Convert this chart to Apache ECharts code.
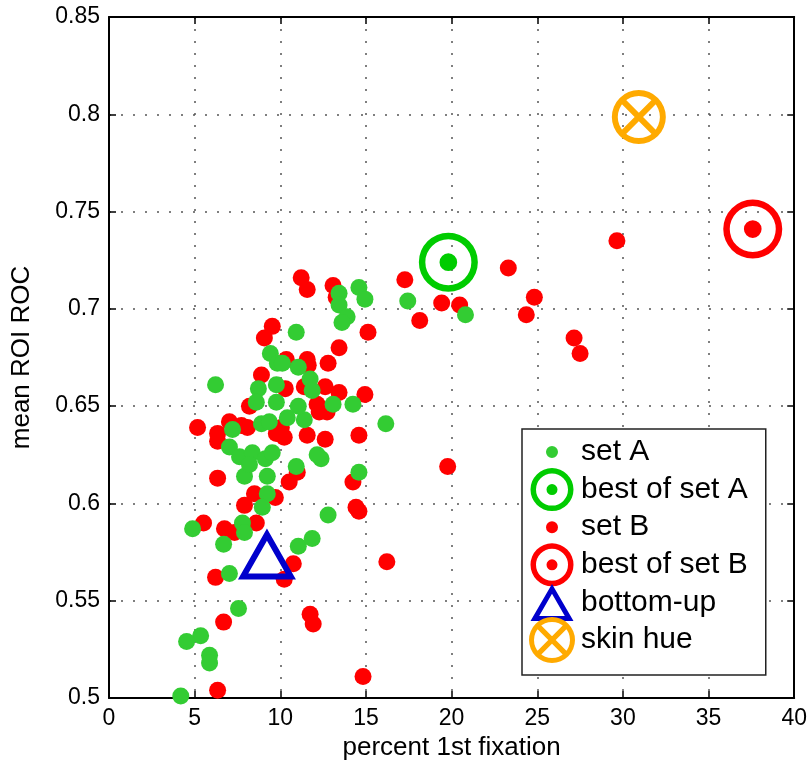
<!DOCTYPE html>
<html><head><meta charset="utf-8">
<script src="https://cdn.jsdelivr.net/npm/echarts@6/dist/echarts.min.js"></script>
<style>html,body{margin:0;padding:0;background:#fff}#c{width:810px;height:769px}</style>
</head><body><div id="c"></div>
<script>
// ---------- data ----------
const setA = [[17.44,0.704],[20.81,0.697],[14.59,0.711],[14.94,0.705],[13.43,0.708],[13.43,0.702],[13.90,0.696],[13.60,0.693],[10.93,0.688],[9.42,0.677],[9.83,0.672],[10.12,0.672],[11.05,0.670],[6.22,0.661],[8.72,0.659],[9.77,0.661],[11.74,0.664],[11.86,0.658],[7.21,0.638],[7.03,0.629],[7.62,0.624],[8.37,0.626],[9.13,0.623],[9.53,0.626],[7.91,0.614],[8.20,0.620],[9.24,0.614],[9.24,0.605],[8.95,0.598],[10.93,0.619],[12.38,0.623],[12.15,0.625],[14.59,0.616],[12.79,0.594],[11.40,0.643],[10.41,0.644],[8.90,0.641],[9.36,0.642],[9.77,0.652],[11.05,0.650],[13.08,0.651],[14.24,0.651],[16.16,0.641],[8.60,0.652],[4.88,0.587],[7.79,0.590],[7.91,0.585],[6.69,0.579],[7.03,0.564],[11.05,0.578],[11.86,0.582],[7.56,0.546],[5.35,0.532],[4.53,0.529],[5.87,0.522],[5.87,0.518],[4.19,0.501]];
const setB = [[29.65,0.735],[23.31,0.721],[24.83,0.706],[24.36,0.697],[27.15,0.685],[27.50,0.677],[17.27,0.715],[19.42,0.703],[20.47,0.702],[18.14,0.694],[19.77,0.619],[16.22,0.570],[14.83,0.511],[11.22,0.716],[11.57,0.710],[13.08,0.712],[13.26,0.706],[15.12,0.688],[9.53,0.691],[9.07,0.685],[13.43,0.680],[10.35,0.674],[11.57,0.674],[11.63,0.671],[12.79,0.672],[8.90,0.666],[10.29,0.659],[11.40,0.660],[12.62,0.660],[13.43,0.657],[14.94,0.656],[5.17,0.639],[7.03,0.642],[6.34,0.636],[6.34,0.632],[7.73,0.640],[8.08,0.639],[6.34,0.613],[8.49,0.605],[9.71,0.603],[7.91,0.599],[10.52,0.611],[10.99,0.616],[14.59,0.635],[12.62,0.633],[11.57,0.635],[10.23,0.634],[9.77,0.636],[14.24,0.611],[14.42,0.598],[14.59,0.596],[8.20,0.650],[12.27,0.647],[12.73,0.647],[12.15,0.651],[10.06,0.639],[5.52,0.590],[6.74,0.587],[7.33,0.585],[8.60,0.590],[6.22,0.562],[10.76,0.569],[10.23,0.561],[6.69,0.539],[11.74,0.543],[11.92,0.538],[6.34,0.504]];
const bestA = [[19.81,0.724]];
const bestB = [[37.58,0.741]];
const bottomUp = [[9.22,0.574]];
const skinHue = [[30.93,0.7986]];
const seriesNames = ['set A','best of set A','set B','best of set B','bottom-up','skin hue'];
const xRange = [0, 40, 5];
const yRange = [0.5, 0.85, 0.05];

// ---------- symbol path helpers ----------
function circ(cx, cy, r, cw) {
  const s = cw ? 1 : 0;
  return `M${cx} ${cy-r}A${r} ${r} 0 1 ${s} ${cx} ${cy+r}A${r} ${r} 0 1 ${s} ${cx} ${cy-r}Z`;
}
function bars(cx, cy, L, h) {
  const s = Math.SQRT1_2; let out = '';
  [[[s,s],[-s,s]],[[s,-s],[s,s]]].forEach(([u,n]) => {
    const p = (a,b) => `${(cx+a*u[0]+b*n[0]).toFixed(2)} ${(cy+a*u[1]+b*n[1]).toFixed(2)}`;
    out += `M${p(-L,-h)}L${p(L,-h)}L${p(L,h)}L${p(-L,h)}Z`;
  });
  return out;
}
function tri(W, H, d, ox, oy) {
  const A=[ox+W/2,oy], B=[ox+W,oy+H], C=[ox,oy+H];
  const ab=Math.hypot(W/2,H), per=2*ab+W, area=W*H/2, r=area/(per/2);
  const I=[ox+W/2, oy+H-r], k=(r-d)/r;
  const q=P=>[I[0]+k*(P[0]-I[0]), I[1]+k*(P[1]-I[1])];
  const A2=q(A),B2=q(B),C2=q(C);
  const f=P=>P[0].toFixed(2)+' '+P[1].toFixed(2);
  return `M${f(A)}L${f(B)}L${f(C)}Z M${f(A2)}L${f(C2)}L${f(B2)}Z`;
}
function corners(W, H) {
  return `M0 0h0.01v0.01h-0.01Z M${W-0.01} ${H-0.01}h0.01v0.01h-0.01Z`;
}
// plot symbols
const ringDotSym = 'path://' + circ(50,50,50,true) + circ(50,50,39,false) + circ(50,50,15,true);
const skinSym = 'path://' + circ(50,50,50,true) + circ(50,50,39,false) + bars(50,50,44,5.5);
const triSym = 'path://' + tri(58,51,6,0,0);
// legend icons (box 48x46)
const LW = 48, LH = 46, cx = 24, cy = 23;
const lgDot = 'path://' + corners(LW,LH) + circ(cx,cy,6,true);
const lgRing = 'path://' + corners(LW,LH) + circ(cx,cy,21.5,true) + circ(cx,cy,16,false) + circ(cx,cy,5.5,true);
const lgTri = 'path://' + corners(LW,LH) + tri(43,37,5,cx-21.5,cy-18.5);
const lgSkin = 'path://' + corners(LW,LH) + circ(cx,cy,23,true) + circ(cx,cy,18,false) + bars(cx,cy,19.5,2.6);

const FONT = 'Liberation Sans, Arial, Helvetica, sans-serif';
const chart = echarts.init(document.getElementById('c'), null, {renderer:'canvas'});
const axisCommon = {
  type: 'value',
  axisLine: {show: true, onZero: false, lineStyle: {color: '#000', width: 2}},
  axisTick: {show: true, inside: true, length: 7, lineStyle: {color: '#000', width: 1.5}},
};
const grid = {left: 109, right: 13, top: 17, bottom: 71};
chart.setOption({
  animation: false,
  backgroundColor: '#fff',
  grid: grid,
  xAxis: [
    Object.assign({}, axisCommon, {
      min: xRange[0], max: xRange[1], interval: xRange[2], position: 'bottom',
      name: 'percent 1st fixation', nameLocation: 'middle', nameGap: 36,
      nameTextStyle: {fontFamily: FONT, fontSize: 26, color: '#000'},
      axisLabel: {fontFamily: FONT, fontSize: 23, color: '#000', margin: 9, showMinLabel: true, showMaxLabel: true},
      splitLine: {show: true, lineStyle: {color: '#555', width: 1.5, type: [2, 10]}}
    }),
    Object.assign({}, axisCommon, {
      min: xRange[0], max: xRange[1], interval: xRange[2], position: 'top',
      axisLabel: {show: false}, splitLine: {show: false}
    })
  ],
  yAxis: [
    Object.assign({}, axisCommon, {
      min: yRange[0], max: yRange[1], interval: yRange[2], position: 'left',
      name: 'mean ROI ROC', nameLocation: 'middle', nameGap: 74,
      nameTextStyle: {fontFamily: FONT, fontSize: 26, color: '#000'},
      axisLabel: {fontFamily: FONT, fontSize: 23, color: '#000', margin: 9, showMinLabel: true, showMaxLabel: true,
        formatter: v => String(+v.toFixed(2))},
      splitLine: {show: true, lineStyle: {color: '#555', width: 1.5, type: [2, 10]}}
    }),
    Object.assign({}, axisCommon, {
      min: yRange[0], max: yRange[1], interval: yRange[2], position: 'right',
      axisLabel: {show: false}, splitLine: {show: false}
    })
  ],
  legend: {
    orient: 'vertical', left: 522, top: 429,
    itemWidth: LW, itemHeight: LH, itemGap: -8.4,
    padding: [0, 18, 12, 6],
    borderColor: '#222', borderWidth: 1.5, backgroundColor: '#fff',
    selectedMode: false,
    textStyle: {fontFamily: FONT, fontSize: 30, color: '#000'},
    data: [
      {name: seriesNames[0], icon: lgDot},
      {name: seriesNames[1], icon: lgRing},
      {name: seriesNames[2], icon: lgDot},
      {name: seriesNames[3], icon: lgRing},
      {name: seriesNames[4], icon: lgTri},
      {name: seriesNames[5], icon: lgSkin}
    ]
  },
  series: [
    {name: seriesNames[2], type: 'scatter', data: setB, symbol: 'circle', symbolSize: 17,
     itemStyle: {color: '#ff0000', opacity: 1}, emphasis: {disabled: true}, z: 2},
    {name: seriesNames[0], type: 'scatter', data: setA, symbol: 'circle', symbolSize: 17,
     itemStyle: {color: '#33cc33', opacity: 1}, emphasis: {disabled: true}, z: 3},
    {name: seriesNames[1], type: 'scatter', data: bestA, symbol: ringDotSym, symbolSize: 59,
     itemStyle: {color: '#00cc00', opacity: 1}, emphasis: {disabled: true}, z: 4},
    {name: seriesNames[3], type: 'scatter', data: bestB, symbol: ringDotSym, symbolSize: 59,
     itemStyle: {color: '#ff0000', opacity: 1}, emphasis: {disabled: true}, z: 4},
    {name: seriesNames[4], type: 'scatter', data: bottomUp, symbol: triSym, symbolSize: [58, 51],
     itemStyle: {color: '#0000cc', opacity: 1}, emphasis: {disabled: true}, z: 4},
    {name: seriesNames[5], type: 'scatter', data: skinHue, symbol: skinSym, symbolSize: 54,
     itemStyle: {color: '#ffaa00', opacity: 1}, emphasis: {disabled: true}, z: 4}
  ]
});
</script>
</body></html>
